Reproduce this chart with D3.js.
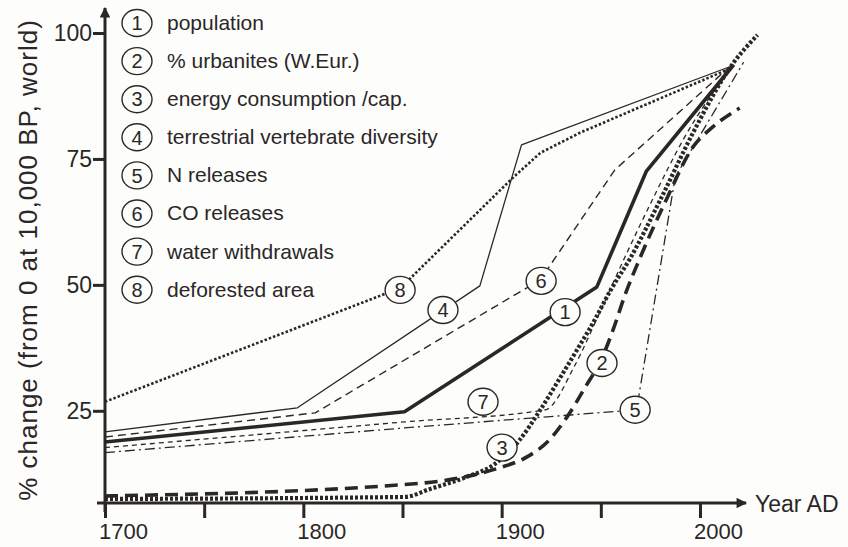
<!DOCTYPE html>
<html>
<head>
<meta charset="utf-8">
<script src="https://cdn.jsdelivr.net/npm/d3@7"></script>
<style>
  html, body { margin: 0; padding: 0; background: #fdfdfc; }
  svg { display: block; font-family: "Liberation Sans", Arial, sans-serif; }
</style>
</head>
<body>
<div id="chart"></div>
<script>
// legend entries, numbered 1..8
const legendLabels = [
  "population",
  "% urbanites (W.Eur.)",
  "energy consumption /cap.",
  "terrestrial vertebrate diversity",
  "N releases",
  "CO releases",
  "water withdrawals",
  "deforested area"
]

// 1 population
const popYears = [1700, 1851, 1948, 1973, 2017]
const popValues = [18.8, 24.8, 49.6, 72.6, 93.7]
// 2 % urbanites (W.Eur.)
const urbYears = [1700, 1849, 1879, 1899, 1913, 1923, 1933, 1942, 1950.6, 1956.2, 1962.2, 1969.8, 1983, 1996.5, 2006, 2020]
const urbValues = [8.1, 10.3, 11.7, 13.7, 15.9, 18.8, 23.8, 29.6, 35.5, 41.1, 48.0, 55.4, 66.9, 77.4, 81.2, 85.1]
// 3 energy consumption /cap.
const energyYears = [1700, 1851, 1864, 1882.5, 1896, 1909, 1919.5, 1928, 1938, 1947, 1955, 1965, 1980, 1996.5, 2016.7, 2029]
const energyValues = [7.5, 7.9, 9.5, 11.9, 14.3, 19.2, 25.2, 30.6, 37.1, 43.1, 49.0, 55.4, 66.9, 80.2, 94.0, 99.6]
// 4 terrestrial vertebrate diversity
const vertYears = [1700, 1797, 1889, 1910, 2015]
const vertValues = [20.8, 25.6, 49.8, 77.8, 93.3]
// 5 N releases
const nYears = [1700, 1851, 1968, 1987.5, 2022]
const nValues = [16.7, 21.6, 25.2, 71.4, 94.2]
// 6 CO releases
const coYears = [1700, 1806, 1919.5, 1957, 2015]
const coValues = [19.8, 24.6, 51.0, 72.8, 93.3]
// 7 water withdrawals
const waterYears = [1700, 1851, 1922, 1937, 1948.5, 1962, 1976, 1991.5, 2016.7]
const waterValues = [17.7, 22.8, 25.2, 34.1, 43.7, 55.4, 66.9, 78.8, 93.7]
// 8 deforested area
const forestYears = [1700, 1849, 1906, 1919.5, 1939.5, 2013.7]
const forestValues = [26.8, 49.4, 71.4, 76.2, 80.2, 92.7]

// where the numbered circles sit on each line (year, value), in order 1..8
const labelYears = [1932, 1950.6, 1900.2, 1870.4, 1967.3, 1919.9, 1890.6, 1848.8]
const labelValues = [44.6, 34.5, 17.7, 45.0, 25.2, 50.8, 26.8, 49.0]

const xTicks = [1700, 1750, 1800, 1850, 1900, 1950, 2000]
const xTickLabels = [1700, 1800, 1900, 2000]
const yTicks = [25, 50, 75, 100]
const yBase = 6.7 // value where the time axis crosses

const ink = "#2b2727"
const width = 848
const height = 547

const series = [
  { id: 1, years: popYears, values: popValues },
  { id: 2, years: urbYears, values: urbValues },
  { id: 3, years: energyYears, values: energyValues },
  { id: 4, years: vertYears, values: vertValues },
  { id: 5, years: nYears, values: nValues },
  { id: 6, years: coYears, values: coValues },
  { id: 7, years: waterYears, values: waterValues },
  { id: 8, years: forestYears, values: forestValues }
]

const styles = {
  1: { w: 3.6, dash: null, curve: d3.curveLinear },
  2: { w: 3.6, dash: "13,7", curve: d3.curveMonotoneX },
  3: { w: 4.2, dash: "3,2", curve: d3.curveMonotoneX },
  4: { w: 1.3, dash: null, curve: d3.curveLinear },
  5: { w: 1.3, dash: "10,4,2,4", curve: d3.curveLinear },
  6: { w: 1.4, dash: "8,5", curve: d3.curveLinear },
  7: { w: 1.3, dash: "5,4", curve: d3.curveMonotoneX },
  8: { w: 2.6, dash: "2.5,2", curve: d3.curveLinear }
}

const x = d3.scaleLinear().domain([1700, 2000]).range([105, 700])
const y = d3.scaleLinear().domain([yBase, 100]).range([503, 33])

const svg = d3.select("#chart")
  .append("svg")
  .attr("width", width)
  .attr("height", height)

const defs = svg.append("defs")
defs.append("marker")
  .attr("id", "arrow")
  .attr("viewBox", "0 0 10 10")
  .attr("refX", 9)
  .attr("refY", 5)
  .attr("markerWidth", 4.5)
  .attr("markerHeight", 3.5)
  .attr("markerUnits", "strokeWidth")
  .attr("orient", "auto")
  .append("path")
  .attr("d", "M0,0 L10,5 L0,10 z")
  .attr("fill", ink)

// Draw series lines
series.forEach(s => {
  const st = styles[s.id]
  const pts = s.years.map((yr, i) => [yr, s.values[i]])
  const line = d3.line()
    .x(d => x(d[0]))
    .y(d => y(d[1]))
    .curve(st.curve)
  svg.append("path")
    .attr("d", line(pts))
    .attr("fill", "none")
    .attr("stroke", ink)
    .attr("stroke-width", st.w)
    .attr("stroke-dasharray", st.dash)
    .attr("stroke-linejoin", "round")
})

// Axes
const xAxis = d3.axisBottom(x)
  .tickValues(xTicks)
  .tickSize(15)
  .tickPadding(5)
  .tickFormat(d => xTickLabels.includes(d) ? d : "")

const gx = svg.append("g")
  .attr("transform", `translate(0,${y(yBase)})`)
  .call(xAxis)
  .attr("font-family", null)
gx.select(".domain").remove()
gx.selectAll(".tick line").attr("stroke", ink).attr("stroke-width", 3)
// labels sit a little right of their ticks, as in the source figure
gx.selectAll(".tick text")
  .attr("fill", ink)
  .attr("font-size", 22)
  .attr("dx", 18)

const yAxis = d3.axisLeft(y)
  .tickValues(yTicks)
  .tickSize(12)
  .tickPadding(1)

const gy = svg.append("g")
  .attr("transform", `translate(${x(1700)},0)`)
  .call(yAxis)
  .attr("font-family", null)
gy.select(".domain").remove()
gy.selectAll(".tick line").attr("stroke", ink).attr("stroke-width", 3)
gy.selectAll(".tick text")
  .attr("fill", ink)
  .attr("font-size", 23)

// axis lines with arrows
svg.append("line")
  .attr("x1", x(1700) - 8).attr("x2", 746)
  .attr("y1", y(yBase)).attr("y2", y(yBase))
  .attr("stroke", ink).attr("stroke-width", 3)
  .attr("marker-end", "url(#arrow)")

svg.append("line")
  .attr("x1", x(1700)).attr("x2", x(1700))
  .attr("y1", y(yBase) + 9).attr("y2", 8)
  .attr("stroke", ink).attr("stroke-width", 3)
  .attr("marker-end", "url(#arrow)")

svg.append("text")
  .attr("x", 755)
  .attr("y", y(yBase) + 9)
  .attr("fill", ink)
  .attr("font-size", 23)
  .text("Year AD")

svg.append("text")
  .attr("transform", `translate(37,260) rotate(-90)`)
  .attr("text-anchor", "middle")
  .attr("fill", ink)
  .attr("font-size", 26)
  .attr("letter-spacing", 1)
  .text("% change (from 0 at 10,000 BP, world)")

// numbered circles on lines
const markers = svg.append("g")
labelYears.forEach((yr, i) => {
  const g = markers.append("g")
    .attr("transform", `translate(${x(yr)},${y(labelValues[i])})`)
  g.append("ellipse")
    .attr("rx", 15).attr("ry", 13.5)
    .attr("fill", "#fdfdfc")
    .attr("stroke", ink)
    .attr("stroke-width", 1.4)
  g.append("text")
    .attr("text-anchor", "middle")
    .attr("dy", "0.36em")
    .attr("font-size", 20)
    .attr("fill", ink)
    .text(i + 1)
})

// legend
const legend = svg.append("g")
legendLabels.forEach((lab, i) => {
  const g = legend.append("g")
    .attr("transform", `translate(137,${23 + i * 38.1})`)
  g.append("ellipse")
    .attr("rx", 15).attr("ry", 13.5)
    .attr("fill", "none")
    .attr("stroke", ink)
    .attr("stroke-width", 1.4)
  g.append("text")
    .attr("text-anchor", "middle")
    .attr("dy", "0.36em")
    .attr("font-size", 20)
    .attr("fill", ink)
    .text(i + 1)
  g.append("text")
    .attr("x", 30)
    .attr("dy", "0.33em")
    .attr("font-size", 21)
    .attr("fill", ink)
    .text(lab)
})
</script>
</body>
</html>
